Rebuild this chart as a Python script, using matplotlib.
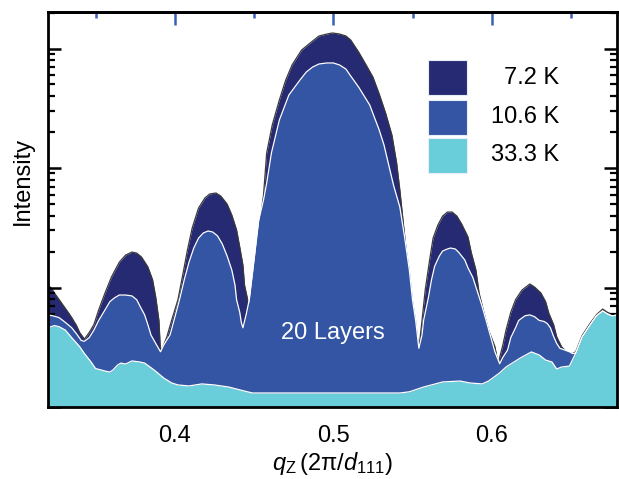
import matplotlib
matplotlib.use("Agg")
import matplotlib.pyplot as plt
import numpy as np
from matplotlib.patches import Rectangle
from matplotlib.ticker import MultipleLocator, LogLocator, NullFormatter

plt.rcParams["font.family"] = ["Liberation Sans", "DejaVu Sans"]
plt.rcParams["mathtext.fontset"] = "custom"
plt.rcParams["mathtext.rm"] = "Liberation Sans"
plt.rcParams["mathtext.it"] = "Liberation Sans:italic"
plt.rcParams["mathtext.bf"] = "Liberation Sans:bold"

# reflectivity around the (111) peak, three temperatures
labels = ["7.2 K", "10.6 K", "33.3 K"]
colors = ["#262a72", "#3455a4", "#6acdda"]

q_72 = [0.320, 0.322, 0.325, 0.328, 0.332, 0.335, 0.338, 0.340, 0.343, 0.346,
        0.349, 0.352, 0.356, 0.360, 0.365, 0.369, 0.373, 0.376, 0.379, 0.383,
        0.386, 0.388, 0.390, 0.391, 0.393, 0.395, 0.398, 0.402, 0.405, 0.408,
        0.411, 0.415, 0.419, 0.422, 0.426, 0.429, 0.433, 0.436, 0.439, 0.441,
        0.443, 0.444, 0.446, 0.447, 0.448, 0.451, 0.453, 0.456, 0.458, 0.4615,
        0.466, 0.470, 0.474, 0.480, 0.487, 0.491, 0.496, 0.4995, 0.504, 0.508,
        0.511, 0.516, 0.520, 0.525, 0.529, 0.533, 0.537, 0.540, 0.542, 0.544,
        0.546, 0.548, 0.550, 0.552, 0.554, 0.555, 0.556, 0.558, 0.561, 0.563,
        0.566, 0.569, 0.572, 0.575, 0.578, 0.581, 0.585, 0.587, 0.590, 0.592,
        0.595, 0.598, 0.602, 0.604, 0.607, 0.609, 0.612, 0.615, 0.619, 0.624,
        0.627, 0.631, 0.634, 0.636, 0.639, 0.641, 0.644, 0.647, 0.651, 0.653,
        0.657, 0.662, 0.666, 0.670, 0.673, 0.676, 0.679]
i_72 = [10.5, 9.9, 8.65, 7.6, 6.4, 5.6, 4.8, 4.2, 3.7, 4.2,
        4.9, 6.5, 9.0, 12.2, 16.3, 18.7, 19.8, 19.4, 18.0, 14.9,
        11.6, 8.3, 5.3, 2.9, 3.3, 3.86, 5.3, 7.9, 12.7, 20.6,
        31.5, 46.3, 56.1, 60.6, 61.8, 58.3, 50.0, 40.4, 30.3, 21.8,
        15.4, 10.5, 7.9, 6.2, 7.9, 15.4, 29.1, 59.4, 134, 229,
        371, 545, 728, 971, 1156, 1273, 1322, 1349, 1322, 1273,
        1178, 935, 757, 578, 416, 289, 189, 110, 65.5, 36.7,
        20.6, 11.6, 6.5, 4.2, 3.1, 4.0, 5.3, 9.5, 17.7, 25.9,
        33.3, 39.6, 42.8, 42.8, 39.6, 34.0, 26.5, 19.8, 14.0, 9.0,
        6.2, 4.4, 3.2, 2.3, 3.3, 4.4, 6.2, 7.9, 9.5, 10.7,
        10.1, 9.0, 7.6, 6.1, 4.9, 3.86, 3.2, 2.9, 2.8, 2.9,
        3.95, 5.0, 5.9, 6.6, 6.2, 5.95, 6.0]

q_106 = [0.320, 0.323, 0.327, 0.331, 0.335, 0.338, 0.341, 0.343, 0.346, 0.349,
         0.352, 0.356, 0.359, 0.362, 0.365, 0.369, 0.373, 0.376, 0.378, 0.381,
         0.383, 0.385, 0.388, 0.391, 0.393, 0.397, 0.400, 0.403, 0.406, 0.409,
         0.412, 0.415, 0.418, 0.421, 0.424, 0.427, 0.430, 0.433, 0.436, 0.438,
         0.439, 0.441, 0.442, 0.443, 0.445, 0.447, 0.450, 0.453, 0.456, 0.458,
         0.461, 0.466, 0.472, 0.479, 0.483, 0.487, 0.491, 0.496, 0.500, 0.504,
         0.508, 0.511, 0.516, 0.523, 0.529, 0.532, 0.535, 0.538, 0.542, 0.545,
         0.548, 0.550, 0.552, 0.554, 0.556, 0.557, 0.560, 0.562, 0.564, 0.567,
         0.569, 0.572, 0.574, 0.577, 0.579, 0.583, 0.585, 0.588, 0.591, 0.594,
         0.597, 0.600, 0.602, 0.605, 0.607, 0.610, 0.612, 0.615, 0.617, 0.621,
         0.624, 0.627, 0.630, 0.633, 0.635, 0.637, 0.639, 0.641, 0.643, 0.646,
         0.649, 0.651, 0.653, 0.657, 0.662, 0.666, 0.670, 0.673, 0.676, 0.679]
i_106 = [5.9, 5.8, 5.6, 5.1, 4.6, 4.1, 3.6, 3.55, 3.8, 4.4,
         5.3, 6.5, 7.6, 8.2, 8.65, 8.65, 8.5, 7.9, 7.0, 5.9,
         4.9, 4.0, 3.4, 2.9, 3.3, 4.0, 5.6, 7.9, 11.6, 16.3,
         21.4, 25.9, 28.6, 29.7, 29.1, 27.0, 23.1, 18.4, 14.0, 10.5,
         7.9, 6.2, 5.1, 4.6, 5.9, 7.9, 17.0, 36.7, 54, 74.9,
         134, 252, 408, 545, 636, 700, 742, 757, 757, 728,
         673, 589, 476, 337, 208, 156, 106, 72.1, 47.2, 26.5,
         14.0, 7.9, 5.3, 3.1, 4.0, 5.3, 8.2, 11.6, 15.1, 18.4,
         20.2, 21.0, 21.4, 21.0, 19.8, 17.0, 14.6, 12.2, 9.2, 6.9,
         5.0, 3.6, 2.9, 2.3, 2.6, 3.0, 3.8, 4.6, 5.3, 5.8,
         5.9, 5.7, 5.3, 5.2, 5.0, 4.6, 3.9, 3.4, 3.1, 3.0,
         2.9, 2.8, 2.83, 3.85, 4.85, 5.78, 6.36, 6.0, 5.78, 5.89]

q_333 = [0.320, 0.324, 0.327, 0.331, 0.335, 0.340, 0.343, 0.347, 0.350, 0.356,
         0.359, 0.361, 0.364, 0.366, 0.369, 0.373, 0.378, 0.381, 0.387, 0.393,
         0.398, 0.402, 0.409, 0.417, 0.425, 0.434, 0.444, 0.449, 0.479, 0.510,
         0.542, 0.548, 0.557, 0.569, 0.580, 0.586, 0.594, 0.598, 0.605, 0.609,
         0.618, 0.625, 0.630, 0.634, 0.638, 0.641, 0.644, 0.649, 0.653, 0.657,
         0.662, 0.666, 0.670, 0.673, 0.676, 0.679]
i_333 = [4.6, 4.8, 4.7, 4.4, 3.8, 3.2, 2.8, 2.4, 2.1, 2.0,
         1.96, 2.04, 2.25, 2.33, 2.29, 2.43, 2.38, 2.33, 2.04, 1.75,
         1.59, 1.53, 1.50, 1.56, 1.53, 1.47, 1.36, 1.31, 1.31, 1.31,
         1.31, 1.34, 1.47, 1.62, 1.65, 1.59, 1.56, 1.65, 1.93, 2.16,
         2.57, 2.89, 2.72, 2.47, 2.38, 2.08, 2.16, 2.20, 2.83, 3.85,
         4.85, 5.78, 6.36, 6.0, 5.78, 5.89]

fig = plt.figure(figsize=(6.19, 4.79), dpi=100)
ax = fig.add_axes([0.0775, 0.1503, 0.9192, 0.8246])

ax.fill_between(q_72, 0.5, i_72, color=colors[0], lw=0, zorder=1)
ax.plot(q_72, i_72, color="#3a3a3a", lw=0.9, zorder=1.1)
ax.fill_between(q_106, 0.5, i_106, color=colors[1], lw=0, zorder=2)
ax.plot(q_106, i_106, color="white", lw=0.9, zorder=2.1)
ax.fill_between(q_333, 0.5, i_333, color=colors[2], lw=0, zorder=3)
ax.plot(q_333, i_333, color="white", lw=0.9, zorder=3.1)

ax.set_yscale("log")
ax.set_xlim(0.32, 0.679)
ax.set_ylim(1, 2020)

ax.xaxis.set_major_locator(MultipleLocator(0.1))
ax.xaxis.set_minor_locator(MultipleLocator(0.05))
ax.yaxis.set_major_locator(LogLocator(base=10))
ax.yaxis.set_minor_locator(LogLocator(base=10, subs=np.arange(2, 10)))
ax.yaxis.set_major_formatter(NullFormatter())
ax.yaxis.set_minor_formatter(NullFormatter())

ax.tick_params(axis="both", which="major", direction="in", length=9.5, width=1.8,
               labelsize=17, color="black")
ax.tick_params(axis="both", which="minor", direction="in", length=5, width=1.6,
               color="black")
ax.tick_params(axis="x", which="major", pad=13)
ax.tick_params(axis="y", which="both", left=True, right=True)
ax.tick_params(axis="x", which="both", top=False)
for s in ax.spines.values():
    s.set_linewidth(2)
    s.set_zorder(5)

top = ax.secondary_xaxis("top")
top.xaxis.set_major_locator(MultipleLocator(0.1))
top.xaxis.set_minor_locator(MultipleLocator(0.05))
top.tick_params(which="major", direction="in", length=9.5, width=1.8,
                color="#3a5fb8", labeltop=False)
top.tick_params(which="minor", direction="in", length=4.5, width=1.8,
                color="#3a5fb8")
top.spines["top"].set_linewidth(2)

ax.set_xlabel(r"$q_{\mathrm{Z}}\,(2\mathrm{\pi}/d_{\mathit{111}})$", fontsize=17,
              labelpad=2)
fig.text(23 / 619, 1 - 181 / 479, "Intensity", rotation=90, fontsize=17,
         ha="center", va="center")

ax.text(0.5, 4.2, "20 Layers", color="white", fontsize=17, ha="center",
        va="center", zorder=4)

# legend drawn by hand as stacked swatches
sw_y = [0.790, 0.689, 0.592]
txt_y = [0.833, 0.733, 0.637]
for c, lab, y0, ty in zip(colors, labels, sw_y, txt_y):
    ax.add_patch(Rectangle((0.668, y0), 0.0685, 0.0886, transform=ax.transAxes,
                           facecolor=c, edgecolor="#e8eef8", lw=0.8, zorder=6))
    ax.text(0.898, ty, lab, transform=ax.transAxes, fontsize=17, ha="right",
            va="center", zorder=6)

fig.savefig("out.png", dpi=100)
